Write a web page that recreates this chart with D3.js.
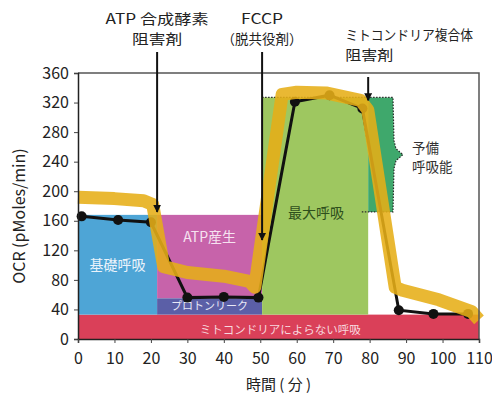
<!DOCTYPE html>
<html>
<head>
<meta charset="utf-8">
<script src="https://cdn.jsdelivr.net/npm/d3@7"></script>
<style>
  html, body { margin: 0; padding: 0; background: #fff; }
  svg { display: block; font-family: "Noto Sans CJK JP", "Noto Sans", sans-serif; }
</style>
</head>
<body>
<svg id="chart" width="492" height="394"></svg>
<script>
// Axis ticks
const timeTicks = [0, 10, 20, 30, 40, 50, 60, 70, 80, 90, 100, 110];
const ocrTicks = [0, 40, 80, 120, 160, 200, 240, 280, 320, 360];

// Measured OCR (black trace)
const measTime = [1, 11, 20, 30, 40, 49.5, 59.5, 69, 78, 88, 97.5, 107];
const measOCR = [166, 161, 158, 56, 57, 56, 321, 330, 312, 39, 34, 34];

// Schematic trend (thick yellow trace)
const trendTime = [0, 10, 18, 20.5, 23.5, 30, 40, 47, 48.5, 56, 60, 68, 77.5, 79.5, 87, 89, 99, 108, 110];
const trendOCR = [192, 190, 187, 182, 98, 90, 85, 78, 70, 331, 334, 333, 323, 310, 70, 66, 53, 37, 26];

// Compound injections
const injectTimes = [21.7, 50.5, 79.6];
const injectLabels = [["ATP 合成酵素", "阻害剤"], ["FCCP", "（脱共役剤）"], ["ミトコンドリア複合体", "阻害剤"]];
const arrowEndOCR = [172, 134, 323];

// Respiration components (time span and OCR band)
const regionLabels = ["ミトコンドリアによらない呼吸", "基礎呼吸", "ATP産生", "プロトンリーク", "最大呼吸", "予備呼吸能"];
const regionT0 = [0, 0, 21.7, 21.7, 50.5, 79.6];
const regionT1 = [110, 21.7, 50.5, 50.5, 79.6, 86.4];
const regionLow = [0, 33, 55, 33, 33, 172];
const regionHigh = [33, 168, 168, 55, 327, 327];

const svg = d3.select("#chart");
const x = d3.scaleLinear().domain([0, 110]).range([78, 479]);
const y = d3.scaleLinear().domain([0, 360]).range([339, 73]);

const fills = ["#DA4059", "#4EA5D6", "#C763AA", "#5B5FA7", "#9EC760", "#3FA86C"];

const regions = regionLabels.map((name, i) => ({
  name, t0: regionT0[i], t1: regionT1[i], lo: regionLow[i], hi: regionHigh[i], fill: fills[i]
}));

// Filled component blocks (spare capacity drawn separately with its brace)
svg.append("g").selectAll("rect")
  .data(regions.slice(0, 5))
  .join("rect")
  .attr("x", d => x(d.t0))
  .attr("y", d => y(d.hi))
  .attr("width", d => x(d.t1) - x(d.t0))
  .attr("height", d => y(d.lo) - y(d.hi))
  .attr("fill", d => d.fill);

// Spare respiratory capacity with a brace on its right side
const sp = regions[5];
const sx0 = x(sp.t0), sx1 = x(sp.t1), sy0 = y(sp.hi), sy1 = y(sp.lo);
const sMid = (sy0 + sy1) / 2;
const spareOutline = [
  [sx1, sy0], [sx1 + 1, sMid - 14], [sx1 + 3, sMid - 6], [sx1 + 10, sMid],
  [sx1 + 3, sMid + 6], [sx1 + 1, sMid + 14], [sx1, sy1]
];
svg.append("path")
  .attr("d", d3.line()([[sx0, sy0], ...spareOutline, [sx0, sy1]]) + "Z")
  .attr("fill", sp.fill);
svg.append("path")
  .attr("d", d3.line()([[x(regions[4].t0), sy0], ...spareOutline, [x(77.5), sy1]]))
  .attr("fill", "none").attr("stroke", "#2a2a2a").attr("stroke-width", 1.2)
  .attr("stroke-dasharray", "1.5,1.5");

// Region labels
const lbl = (txt, px, py, size, color, anchor = "middle") =>
  svg.append("text").attr("x", px).attr("y", py).attr("text-anchor", anchor)
    .attr("font-size", size).attr("fill", color).text(txt);
const cx = r => (x(r.t0) + x(r.t1)) / 2;
const cy = r => (y(r.lo) + y(r.hi)) / 2;
lbl(regions[0].name, x(55.5), y(12) + 4, 11.5, "#F8D7DE");
lbl(regions[1].name, cx(regions[1]), cy(regions[1]) + 5, 14, "#EAF3FB");
lbl(regions[2].name, cx(regions[2]), y(138) + 5, 14, "#F6E2F0");
lbl(regions[3].name, cx(regions[3]), cy(regions[3]) + 4, 11, "#E8E8F6");
lbl(regions[4].name, x(65.3), y(171) + 5, 14, "#2E4F1C");
lbl("予備", sx1 + 19, sMid - 2, 13.5, "#333", "start");
lbl("呼吸能", sx1 + 19, sMid + 17, 13.5, "#333", "start");

// Measured OCR trace
svg.append("path")
  .datum(measTime.map((t, i) => [t, measOCR[i]]))
  .attr("d", d3.line().x(d => x(d[0])).y(d => y(d[1])))
  .attr("fill", "none").attr("stroke", "#111").attr("stroke-width", 3);
svg.append("g").selectAll("circle")
  .data(measTime.map((t, i) => [t, measOCR[i]]))
  .join("circle")
  .attr("cx", d => x(d[0])).attr("cy", d => y(d[1])).attr("r", 5).attr("fill", "#111");

// Schematic trend trace
svg.append("path")
  .datum(trendTime.map((t, i) => [t, trendOCR[i]]))
  .attr("d", d3.line().x(d => x(d[0])).y(d => y(d[1])))
  .attr("fill", "none").attr("stroke", "#E6AE17").attr("stroke-opacity", 0.88)
  .attr("stroke-width", 13).attr("stroke-linejoin", "round").attr("stroke-linecap", "butt");

// Plot frame (top/right)
svg.append("path")
  .attr("d", `M${x(0)},${y(360)}H${x(110)}V${y(0)}`)
  .attr("fill", "none").attr("stroke", "#555").attr("stroke-width", 1.5);

// Axes
const yAxis = svg.append("g").attr("transform", `translate(${x(0)},0)`)
  .call(d3.axisLeft(y).tickValues(ocrTicks).tickSize(4).tickPadding(5));
const xAxis = svg.append("g").attr("transform", `translate(0,${y(0)})`)
  .call(d3.axisBottom(x).tickValues(timeTicks).tickSize(4).tickPadding(10));
[yAxis, xAxis].forEach(g => {
  g.selectAll("text").attr("font-size", 16).attr("fill", "#222")
    .attr("font-family", "\"Noto Sans CJK JP\", \"Noto Sans\", sans-serif");
  g.select(".domain").attr("stroke", "#222").attr("stroke-width", 1.5);
  g.selectAll(".tick line").attr("stroke", "#444");
});

svg.append("text")
  .attr("transform", `translate(25,${(y(0) + y(360)) / 2 + 10}) rotate(-90)`)
  .attr("text-anchor", "middle").attr("font-size", 16).attr("fill", "#222")
  .text("OCR (pMoles/min)");
svg.append("text")
  .attr("x", (x(0) + x(110)) / 2).attr("y", 390)
  .attr("text-anchor", "middle").attr("font-size", 15).attr("fill", "#222")
  .text("時間 ( 分 )");

// Injection arrows
const defs = svg.append("defs");
defs.append("marker").attr("id", "head").attr("viewBox", "0 0 10 10")
  .attr("refX", 9).attr("refY", 5).attr("markerWidth", 4).attr("markerHeight", 4)
  .attr("orient", "auto")
  .append("path").attr("d", "M0,0L10,5L0,10Z").attr("fill", "#111");
const arrowTop = [52, 52, 77];
injectTimes.forEach((t, i) => {
  svg.append("line")
    .attr("x1", x(t)).attr("x2", x(t))
    .attr("y1", arrowTop[i]).attr("y2", y(arrowEndOCR[i]))
    .attr("stroke", "#111").attr("stroke-width", 2)
    .attr("marker-end", "url(#head)");
});

// Injection labels: two lines each, stretched to the set line widths
const labelWidths = [[103, 50], [42, 81], [128, 48]];
const labelBase = [[24, 44], [24, 44], [40, 60]];
injectLabels.forEach((lines, i) => {
  lines.forEach((txt, j) => {
    const left = i === 2;
    const px = left ? x(injectTimes[i]) - 23 : x(injectTimes[i]);
    lbl(txt, px, labelBase[i][j], 13.8, "#222", left ? "start" : "middle")
      .attr("textLength", labelWidths[i][j]).attr("lengthAdjust", "spacingAndGlyphs");
  });
});
</script>
</body>
</html>
